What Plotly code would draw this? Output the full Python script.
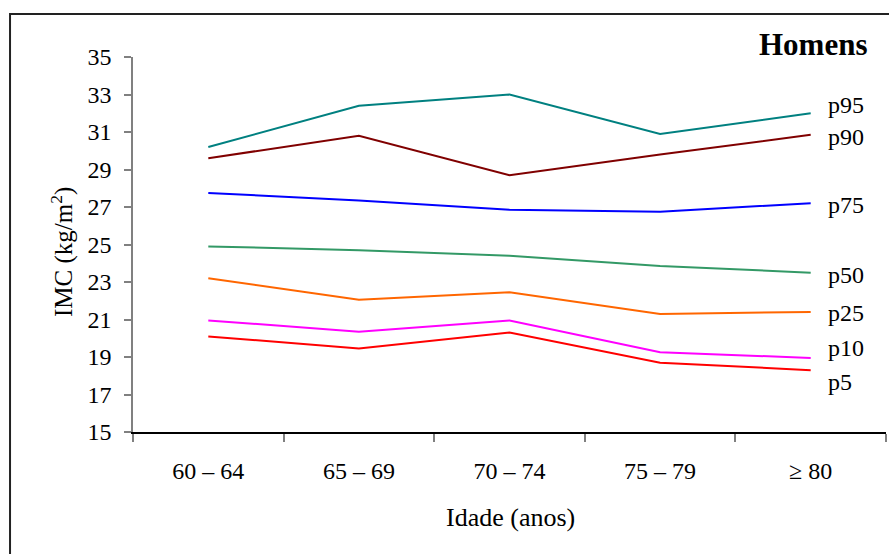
import plotly.graph_objects as go

categories = ["60 – 64", "65 – 69", "70 – 74", "75 – 79", "≥ 80"]
p95 = [30.2, 32.4, 33.0, 30.9, 32.0]
p90 = [29.6, 30.8, 28.7, 29.8, 30.85]
p75 = [27.75, 27.35, 26.85, 26.75, 27.2]
p50 = [24.9, 24.7, 24.4, 23.85, 23.5]
p25 = [23.2, 22.05, 22.45, 21.3, 21.4]
p10 = [20.95, 20.35, 20.95, 19.25, 18.95]
p5 = [20.1, 19.45, 20.3, 18.7, 18.3]

series = [("p95", p95), ("p90", p90), ("p75", p75), ("p50", p50),
          ("p25", p25), ("p10", p10), ("p5", p5)]

colors = {"p95": "#008080", "p90": "#800000", "p75": "#0000FF", "p50": "#339966",
          "p25": "#FF6600", "p10": "#FF00FF", "p5": "#FF0000"}
label_yshift = {"p95": 8, "p90": -2, "p75": -2, "p50": -2, "p25": -1, "p10": 10, "p5": -12}

FONT = "Liberation Serif, Times New Roman, serif"

fig = go.Figure()
for name, vals in series:
    fig.add_trace(go.Scatter(x=categories, y=vals, mode="lines", name=name,
                             line=dict(color=colors[name], width=2)))

annotations = []
for name, vals in series:
    annotations.append(dict(x=len(categories) - 1, y=vals[-1], xref="x", yref="y",
                            text=name, showarrow=False, xanchor="left", yanchor="middle",
                            xshift=15, yshift=label_yshift[name],
                            font=dict(family=FONT, size=24, color="black")))

annotations.append(dict(x=0.5007, y=-0.229, xref="paper", yref="paper", text="Idade (anos)",
                        showarrow=False, xanchor="center", yanchor="middle",
                        font=dict(family=FONT, size=26, color="black")))
annotations.append(dict(x=-0.0943, y=0.48, xref="paper", yref="paper",
                        text="IMC (kg/m<sup>2</sup>)", textangle=-90,
                        showarrow=False, xanchor="center", yanchor="middle",
                        font=dict(family=FONT, size=25, color="black")))
annotations.append(dict(x=0.9788, y=1.032, xref="paper", yref="paper", text="<b>Homens</b>",
                        showarrow=False, xanchor="right", yanchor="middle",
                        font=dict(family=FONT, size=31, color="black")))

fig.update_layout(
    width=889, height=554,
    margin=dict(l=133, r=3, t=57, b=122),
    paper_bgcolor="white", plot_bgcolor="white",
    showlegend=False,
    annotations=annotations,
    shapes=[dict(type="rect", xref="paper", yref="paper",
                 x0=-0.1633, y0=-0.5, x1=1.1, y1=1.1147,
                 line=dict(color="#222222", width=2), layer="below")],
    xaxis=dict(type="category", range=[-0.5, 4.5], tickson="boundaries",
               showline=True, linecolor="black", linewidth=1.5,
               ticks="outside", ticklen=8, tickcolor="#808080", tickwidth=1.5,
               showgrid=False, zeroline=False, ticklabelstandoff=16,
               tickfont=dict(family=FONT, size=24, color="black")),
    yaxis=dict(range=[15, 35], dtick=2, tick0=15,
               showline=True, linecolor="#808080", linewidth=1.5,
               ticks="outside", ticklen=7, tickcolor="#808080", tickwidth=1.5,
               showgrid=False, zeroline=False, ticklabelstandoff=8,
               tickfont=dict(family=FONT, size=24, color="black")),
)

fig.write_html("out.html", config={"displayModeBar": False},
               post_script="document.body.style.margin='0';document.body.style.overflow='hidden';")
